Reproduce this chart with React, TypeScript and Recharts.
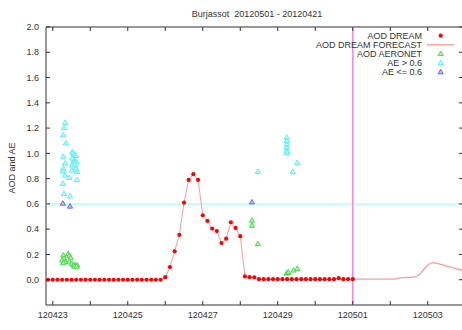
import React from 'react';
import { ComposedChart, Line, Scatter, XAxis, YAxis, ReferenceLine, ReferenceArea } from 'recharts';

// x is in days after 2012-04-23 00h
const X_MIN = -0.18;
const X_MAX = 10.94;
const Y_MIN = -0.2;
const Y_MAX = 2.0;

// DREAM model AOD, 3-hourly from 2012-04-22 21h
const dreamStart = -0.125;
const dreamStep = 0.125;
const dreamAod = [
  0, 0, 0, 0, 0, 0, 0, 0, 0, 0, 0, 0, 0, 0, 0, 0, 0, 0, 0, 0, 0, 0, 0, 0, 0,
  0.02, 0.1, 0.225, 0.355, 0.61, 0.79, 0.835, 0.79, 0.51, 0.465, 0.405, 0.385, 0.29, 0.325,
  0.455, 0.41, 0.345, 0.026, 0.02, 0.018,
  0.004, 0.004, 0.004, 0.004, 0.004, 0.004, 0.004, 0.004, 0.004, 0.004, 0.004, 0.004,
  0.004, 0.004, 0.004, 0.004, 0.004, 0.012, 0.004, 0.004, 0.004,
];

const forecastDays = [
  8.0, 8.125, 8.25, 8.375, 8.5, 8.625, 8.75, 8.875, 9.0, 9.125, 9.25, 9.375, 9.5, 9.625,
  9.75, 9.875, 10.0, 10.125, 10.25, 10.375, 10.5, 10.625, 10.75, 10.875, 11.0,
];
const forecastAod = [
  0.004, 0.004, 0.004, 0.004, 0.004, 0.004, 0.004, 0.004, 0.004, 0.005, 0.015, 0.017, 0.018, 0.02,
  0.035, 0.075, 0.115, 0.135, 0.13, 0.12, 0.108, 0.097, 0.088, 0.079, 0.072,
];

// AERONET AOD
const aodDays = [
  0.28, 0.3, 0.25, 0.33, 0.28, 0.41, 0.44, 0.48, 0.44, 0.51, 0.55, 0.6, 0.65, 0.58, 0.64,
  5.31, 5.31, 5.47, 6.24, 6.26, 6.28, 6.42, 6.52,
];
const aodValues = [
  0.193, 0.167, 0.153, 0.14, 0.132, 0.206, 0.19, 0.172, 0.145, 0.127, 0.113, 0.116, 0.113, 0.105, 0.105,
  0.468, 0.428, 0.283, 0.05, 0.055, 0.06, 0.074, 0.087,
];

// Angstrom exponent > 0.6
const aeHighDays = [
  0.33, 0.3, 0.28, 0.35, 0.28, 0.33, 0.28, 0.27, 0.33, 0.44, 0.27, 0.3, 0.46,
  0.52, 0.55, 0.59, 0.62, 0.52, 0.57, 0.6, 0.55, 0.64, 0.59, 0.51, 0.62, 0.65, 0.51, 0.65,
  5.47, 6.24, 6.24, 6.24, 6.24, 6.24, 6.25, 6.4, 6.52,
];
const aeHighValues = [
  1.243, 1.2, 1.143, 1.08, 0.974, 0.92, 0.88, 0.857, 0.825, 0.807, 0.76, 0.68, 0.66,
  1.01, 1.0, 0.99, 0.98, 0.96, 0.945, 0.935, 0.925, 0.93, 0.91, 0.905, 0.875, 0.855, 0.865, 0.79,
  0.855, 1.125, 1.1, 1.07, 1.045, 1.02, 1.005, 0.852, 0.926,
];

// Angstrom exponent <= 0.6
const aeLowDays = [0.27, 0.46, 5.31];
const aeLowValues = [0.603, 0.58, 0.613];

const xTicks = [0, 1, 2, 3, 4, 5, 6, 7, 8, 9, 10];
const xTickLabels = ['120423', '', '120425', '', '120427', '', '120429', '', '120501', '', '120503'];
const yTicks = [0, 0.2, 0.4, 0.6, 0.8, 1.0, 1.2, 1.4, 1.6, 1.8, 2.0];

const legendLabels = ['AOD DREAM', 'AOD DREAM FORECAST', 'AOD AERONET', 'AE > 0.6', 'AE <= 0.6'];

const dreamData = dreamAod.map((y, i) => ({ x: dreamStart + i * dreamStep, y }));
const forecastData = forecastDays.map((x, i) => ({ x, y: forecastAod[i] }));
const aodData = aodDays.map((x, i) => ({ x, y: aodValues[i] }));
const aeHighData = aeHighDays.map((x, i) => ({ x, y: aeHighValues[i] }));
const aeLowData = aeLowDays.map((x, i) => ({ x, y: aeLowValues[i] }));

const FONT = '"Liberation Sans", Arial, sans-serif';
const PLOT_TOP = 27;
const PLOT_BOTTOM = 305;
const PLOT_LEFT = 46;
const PLOT_RIGHT = 463;

const triangle = (stroke: string, fill: string) => (props: any) => {
  const { cx, cy } = props;
  if (cx == null || cy == null) return <g />;
  return (
    <path
      d={`M${cx},${cy - 2.8}L${cx + 2.6},${cy + 1.7}L${cx - 2.6},${cy + 1.7}Z`}
      stroke={stroke}
      strokeWidth={0.9}
      fill={fill}
    />
  );
};

const RedDot = (props: any) => {
  const { cx, cy } = props;
  if (cx == null || cy == null) return <g />;
  return <circle cx={cx} cy={cy} r={2.1} fill="#ff0000" />;
};

const XTick = (props: any) => {
  const { x, payload } = props;
  const label = xTickLabels[xTicks.indexOf(payload.value)];
  return (
    <g>
      <line x1={x} x2={x} y1={PLOT_BOTTOM} y2={PLOT_BOTTOM - 4} stroke="#333" />
      <line x1={x} x2={x} y1={PLOT_TOP} y2={PLOT_TOP + 4} stroke="#333" />
      {label ? (
        <text x={x} y={317.5} textAnchor="middle" fontSize={9} fontFamily={FONT} fill="#333">
          {label}
        </text>
      ) : null}
    </g>
  );
};

const YTick = (props: any) => {
  const { y, payload } = props;
  return (
    <g>
      <line x1={PLOT_LEFT} x2={PLOT_LEFT + 4} y1={y} y2={y} stroke="#333" />
      <line x1={PLOT_RIGHT - 4} x2={PLOT_RIGHT} y1={y} y2={y} stroke="#333" />
      <text x={39} y={y + 3.2} textAnchor="end" fontSize={9} fontFamily={FONT} fill="#333">
        {payload.value.toFixed(1)}
      </text>
    </g>
  );
};

const LegendOverlay = () => {
  const rowY = (i: number) => 35.7 + i * 9.1;
  return (
    <svg width={462} height={330} style={{ position: 'absolute', left: 0, top: 0, pointerEvents: 'none' }}>
      <text x={257} y={17} textAnchor="middle" fontSize={9} fontFamily={FONT} fill="#333" style={{ whiteSpace: 'pre' }}>
        {'Burjassot  20120501 - 20120421'}
      </text>
      <text
        x={13}
        y={168}
        transform="rotate(-90 13 168)"
        textAnchor="middle"
        dominantBaseline="middle"
        fontSize={9}
        fontFamily={FONT}
        fill="#333"
      >
        AOD and AE
      </text>
      {legendLabels.map((l, i) => (
        <text key={l} x={422} y={rowY(i) + 3.2} textAnchor="end" fontSize={9} fontFamily={FONT} fill="#333">
          {l}
        </text>
      ))}
      <circle cx={440.7} cy={rowY(0)} r={2.1} fill="#ff0000" />
      <line x1={427} x2={454} y1={rowY(1)} y2={rowY(1)} stroke="#ff9a9a" strokeWidth={1.3} />
      {triangle('#33dd33', '#b8f5b8')({ cx: 440.7, cy: rowY(2) })}
      {triangle('#44eeee', '#c8ffff')({ cx: 440.7, cy: rowY(3) })}
      {triangle('#5858ff', '#c0c0ff')({ cx: 440.7, cy: rowY(4) })}
    </svg>
  );
};

export default function App() {
  return (
    <div style={{ position: 'absolute', left: 0, top: 0, width: 462, height: 330, overflow: 'hidden', background: '#fff' }}>
      <ComposedChart width={470} height={330} margin={{ top: 27, right: 7, bottom: 0, left: 0 }}>
        <XAxis
          type="number"
          dataKey="x"
          domain={[X_MIN, X_MAX]}
          allowDataOverflow
          ticks={xTicks}
          interval={0}
          tick={<XTick />}
          tickLine={false}
          axisLine={false}
          height={25}
        />
        <YAxis
          type="number"
          dataKey="y"
          domain={[Y_MIN, Y_MAX]}
          allowDataOverflow
          ticks={yTicks}
          interval={0}
          tick={<YTick />}
          tickLine={false}
          axisLine={false}
          width={46}
        />
        <ReferenceLine y={0.6} stroke="#b0ffff" strokeWidth={1.5} />
        <ReferenceLine x={8} stroke="#ff80ff" strokeWidth={1.5} />
        <ReferenceArea x1={X_MIN} x2={X_MAX} y1={Y_MIN} y2={Y_MAX} fill="none" stroke="#333" strokeWidth={1} fillOpacity={0} />
        <Line
          data={forecastData}
          dataKey="y"
          type="monotone"
          stroke="#ff9a9a"
          strokeWidth={1.3}
          dot={false}
          activeDot={false}
          isAnimationActive={false}
        />
        <Line
          data={dreamData}
          dataKey="y"
          type="linear"
          stroke="#ff9a9a"
          strokeWidth={1}
          dot={<RedDot />}
          activeDot={false}
          isAnimationActive={false}
        />
        <Scatter data={aodData} dataKey="y" shape={triangle('#33dd33', '#b8f5b8')} isAnimationActive={false} />
        <Scatter data={aeHighData} dataKey="y" shape={triangle('#44eeee', '#c8ffff')} isAnimationActive={false} />
        <Scatter data={aeLowData} dataKey="y" shape={triangle('#5858ff', '#c0c0ff')} isAnimationActive={false} />
      </ComposedChart>
      <LegendOverlay />
    </div>
  );
}
